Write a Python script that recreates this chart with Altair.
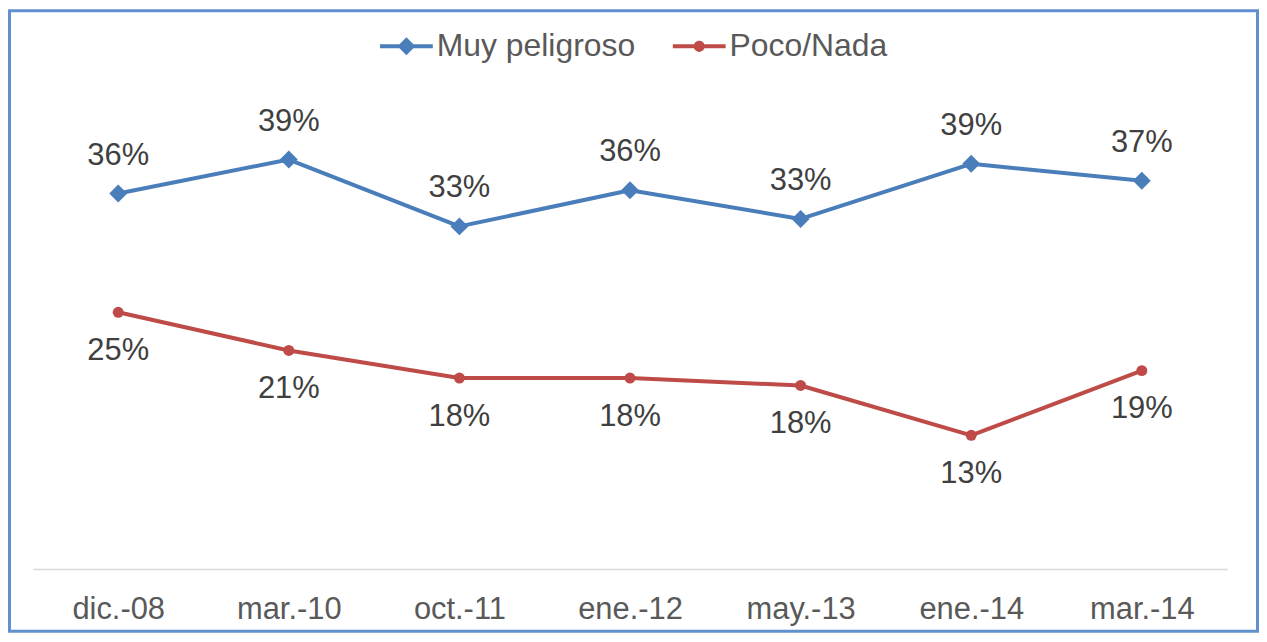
import altair as alt
import pandas as pd

categories = ["dic.-08", "mar.-10", "oct.-11", "ene.-12", "may.-13", "ene.-14", "mar.-14"]
series_names = ["Muy peligroso", "Poco/Nada"]
muy_values = [35.8, 39.0, 32.7, 36.1, 33.4, 38.6, 37.0]
muy_labels = ["36%", "39%", "33%", "36%", "33%", "39%", "37%"]
poco_values = [24.6, 21.0, 18.4, 18.4, 17.7, 13.0, 19.1]
poco_labels = ["25%", "21%", "18%", "18%", "18%", "13%", "19%"]
colors = ["#4A7EBB", "#BE4B48"]
marker_shapes = ["diamond", "circle"]
marker_sizes = [324, 121]
label_offsets = [-38, 39]

rows = []
for c, v, l in zip(categories, muy_values, muy_labels):
    rows.append({"cat": c, "series": series_names[0], "value": v, "label": l})
for c, v, l in zip(categories, poco_values, poco_labels):
    rows.append({"cat": c, "series": series_names[1], "value": v, "label": l})
df = pd.DataFrame(rows)

FONT = "Liberation Sans"
FS = 31

# legend symbols: a short line with the marker on it (unit box -1..1)
diamond_path = "M-1,-0.075L1,-0.075L1,0.075L-1,0.075Z M0,-0.34L0.34,0L0,0.34L-0.34,0Z"
circle_path = "M-1,-0.075L1,-0.075L1,0.075L-1,0.075Z M-0.21,0A0.21,0.21 0 1,1 0.21,0A0.21,0.21 0 1,1 -0.21,0Z"

legend = alt.Legend(
    title=None,
    orient="none",
    legendX=348.5,
    legendY=-76.5,
    direction="horizontal",
    labelFontSize=32,
    labelFont=FONT,
    labelColor="#595959",
    labelLimit=400,
    symbolSize=2809,
    symbolOpacity=1,
    symbolStrokeWidth=0,
    columnPadding=37,
    labelOffset=4,
)

x_enc = alt.X(
    "cat:N",
    sort=categories,
    scale=alt.Scale(type="point", padding=0.5),
    axis=alt.Axis(
        title=None,
        labelAngle=0,
        labelFontSize=FS,
        labelFont=FONT,
        labelColor="#595959",
        ticks=False,
        tickSize=0,
        labelPadding=26,
        domainColor="#D9D9D9",
        domainWidth=1.5,
        grid=False,
    ),
)
y_enc = alt.Y("value:Q", scale=alt.Scale(domain=[0.4, 45], zero=False), axis=None)

base = alt.Chart(df)

layers = []
border = alt.Chart(pd.DataFrame({"b": [0]})).mark_rect(
    filled=False, fill=None, stroke="#6190CF", strokeWidth=3
).encode(
    x=alt.value(-23.5), x2=alt.value(1229.5), y=alt.value(-85.5), y2=alt.value(537.5)
)
layers.append(border)

for name, col, shp, sz, dy in zip(series_names, colors, marker_shapes, marker_sizes, label_offsets):
    sub = base.transform_filter(alt.datum.series == name)
    layers.append(sub.mark_line(strokeWidth=4, strokeCap="round", strokeJoin="round", color=col).encode(x=x_enc, y=y_enc))
    layers.append(sub.mark_point(filled=True, opacity=1, color=col, shape=shp, size=sz).encode(x=x_enc, y=y_enc))
    layers.append(
        sub.mark_text(fontSize=FS, font=FONT, color="#404040", dy=dy, baseline="middle", align="center").encode(
            x=x_enc, y=y_enc, text="label:N"
        )
    )

legend_layer = base.mark_point(filled=True, opacity=0).encode(
    x=x_enc,
    y=y_enc,
    color=alt.Color("series:N", scale=alt.Scale(domain=series_names, range=colors), legend=legend),
    shape=alt.Shape("series:N", scale=alt.Scale(domain=series_names, range=[diamond_path, circle_path]), legend=legend),
)
layers.append(legend_layer)

chart = alt.layer(*layers).properties(
    width=1199,
    height=475,
    background="white",
    autosize=alt.AutoSizeParams(type="none"),
    padding={"left": 25, "top": 87, "right": 32, "bottom": 64},
).configure_view(stroke=None)

chart.save("out.html", embed_options={"renderer": "svg", "actions": False})
